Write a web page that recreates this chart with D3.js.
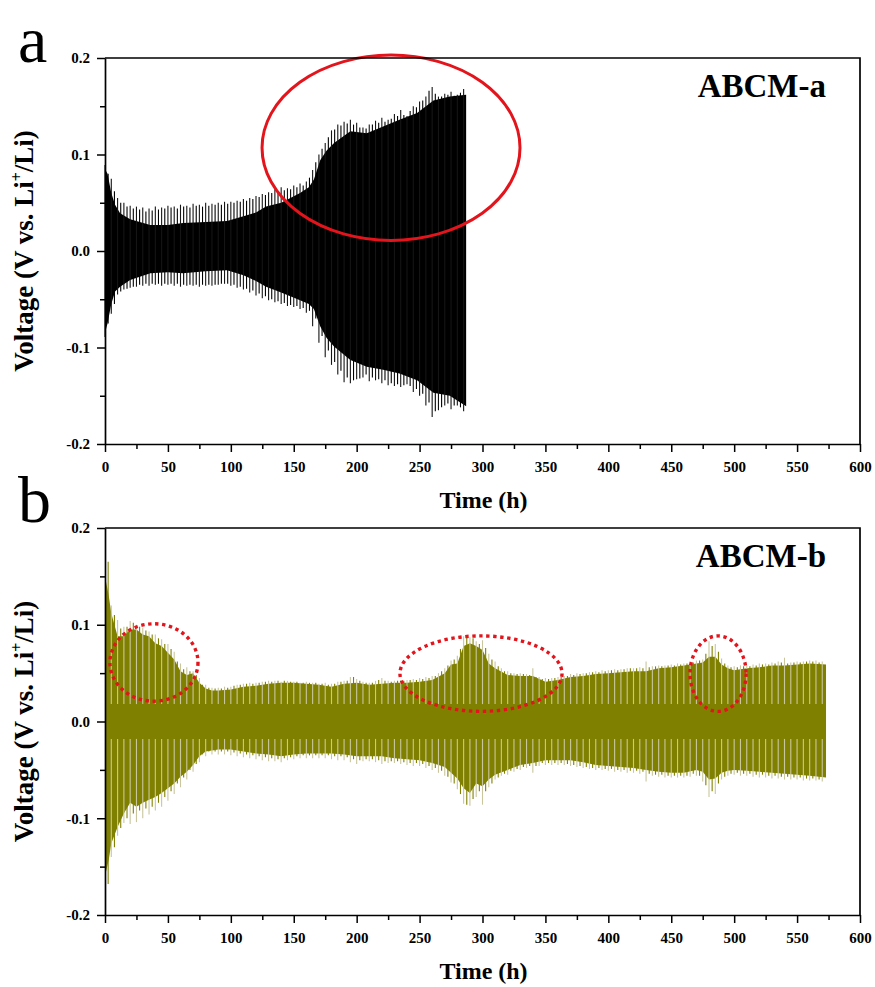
<!DOCTYPE html>
<meta charset="utf-8">
<script src="https://d3js.org/d3.v7.min.js"></script>
<style>
  body { margin: 0; background: #fff; }
  text { font-family: "Liberation Serif", "Times New Roman", serif; }
</style>
<body>
  <div id="chart"></div>
</body>
<script>
    // ---- data ----
    // panel a: dense band (upper / lower edge of the solid black)
    const aBandT = [0, 2, 5, 8, 12, 20, 36, 50, 62, 80, 97, 110, 120, 128, 140, 155, 162, 166, 171, 176, 182, 195, 208, 221, 234, 248, 261, 274, 287];
    const aBandTop = [.085, .080, .060, .048, .039, .033, .027, .027, .029, .030, .031, .036, .040, .046, .050, .060, .066, .074, .094, .104, .112, .124, .122, .129, .136, .143, .156, .160, .162];
    const aBandBot = [-.085, -.075, -.055, -.042, -.037, -.030, -.023, -.022, -.023, -.021, -.020, -.025, -.031, -.037, -.043, -.051, -.055, -.060, -.078, -.090, -.099, -.113, -.120, -.123, -.127, -.134, -.147, -.150, -.161];
    // panel a: spike tips, every 5 h from 0 h ...
    const aSpikeUp = [.089, .075, .055, .050, .047, .046, .045, .044, .046, .045,
        .047, .046, .048, .047, .049, .048, .050, .049, .050, .051,
        .051, .052, .054, .055, .057, .059, .061, .064, .066, .065,
        .068, .070, .072, .084, .100, .112, .125, .131, .134, .136,
        .133, .128, .131, .135, .138, .136, .142, .146, .140, .150,
        .155, .160, .170, .160, .163, .165, .162, .168];
    const aSpikeDn = [-.089, -.065, -.045, -.040, -.038, -.037, -.036, -.036, -.035, -.036,
        -.035, -.036, -.037, -.036, -.036, -.037, -.036, -.036, -.035, -.034,
        -.036, -.038, -.040, -.043, -.046, -.049, -.051, -.053, -.055, -.057,
        -.058, -.060, -.064, -.078, -.095, -.110, -.118, -.128, -.136, -.137,
        -.133, -.131, -.135, -.134, -.137, -.139, -.140, -.141, -.138, -.146,
        -.150, -.160, -.172, -.165, -.160, -.164, -.160, -.166];
    // ... and the cycles in between, every 5 h from 2.5 h
    const aSpikeUp2 = [.080, .062, .050, .046, .044, .043, .041, .042, .043, .044,
        .045, .044, .046, .045, .047, .046, .047, .048, .048, .049,
        .050, .051, .052, .054, .056, .058, .060, .062, .063, .064,
        .066, .068, .076, .092, .106, .118, .126, .130, .132, .131,
        .128, .127, .131, .133, .134, .137, .140, .141, .145, .149,
        .156, .166, .163, .160, .162, .161, .164];
    const aSpikeDn2 = [-.075, -.055, -.042, -.039, -.037, -.035, -.034, -.034, -.034, -.034,
        -.034, -.034, -.035, -.035, -.035, -.035, -.035, -.035, -.034, -.034,
        -.035, -.037, -.039, -.041, -.044, -.047, -.050, -.052, -.054, -.056,
        -.057, -.059, -.062, -.070, -.088, -.103, -.115, -.124, -.131, -.134,
        -.132, -.128, -.131, -.133, -.134, -.137, -.138, -.139, -.140, -.143,
        -.148, -.157, -.166, -.162, -.158, -.160, -.162];

    // panel b: dense band
    const bBandT = [0, 3, 5, 10, 15, 20, 25, 30, 35, 40, 45, 50, 55, 60, 65, 70, 75, 80, 85, 90,
        100, 110, 120, 130, 140, 150, 160, 170, 180, 190, 200, 210, 220, 230, 240, 250, 260, 270, 275, 280,
        285, 290, 295, 300, 305, 310, 320, 330, 340, 350, 360, 370, 380, 390, 400, 410, 420, 430, 440, 450,
        460, 470, 475, 480, 485, 490, 495, 500, 510, 520, 530, 540, 550, 560, 573];
    const bBandTop = [.150, .130, .112, .088, .088, .095, .095, .090, .088, .081, .078, .071, .064, .052, .048, .050, .040, .034, .032, .032,
        .033, .036, .037, .039, .040, .040, .039, .038, .036, .039, .040, .038, .039, .040, .040, .041, .043, .050, .059, .060,
        .078, .081, .078, .074, .060, .055, .048, .047, .047, .041, .043, .046, .047, .049, .050, .051, .052, .052, .055, .056,
        .058, .060, .061, .067, .067, .059, .055, .053, .055, .056, .058, .058, .059, .060, .059];
    const bBandBot = [-.160, -.143, -.126, -.109, -.095, -.084, -.088, -.084, -.081, -.078, -.074, -.069, -.064, -.057, -.052, -.045, -.036, -.031, -.030, -.029,
        -.029, -.031, -.033, -.034, -.036, -.034, -.033, -.033, -.033, -.034, -.036, -.036, -.036, -.038, -.039, -.040, -.043, -.047, -.053, -.059,
        -.069, -.074, -.064, -.067, -.060, -.055, -.050, -.045, -.043, -.040, -.040, -.040, -.042, -.045, -.046, -.047, -.048, -.050, -.052, -.053,
        -.053, -.050, -.052, -.060, -.059, -.053, -.051, -.050, -.051, -.052, -.053, -.054, -.055, -.056, -.058];
    // panel b: pale spikes, every 5 h from 5 h
    const bSpikeUp = [.120, .105, .098, .104, .100, .097, .093, .090, .085, .080,
        .072, .060, .056, .052, .045, .038, .035, .035, .036, .036,
        .038, .039, .040, .040, .041, .042, .042, .041, .042, .041,
        .040, .041, .040, .039, .040, .039, .041, .042, .046, .044,
        .041, .040, .042, .045, .042, .042, .043, .043, .044, .045,
        .046, .047, .050, .055, .063, .068, .088, .087, .083, .084,
        .070, .062, .055, .052, .050, .050, .049, .055, .046, .045,
        .045, .046, .047, .049, .050, .050, .051, .052, .053, .053,
        .054, .054, .055, .055, .056, .062, .057, .058, .058, .059,
        .060, .060, .062, .063, .064, .083, .080, .065, .058, .057,
        .058, .058, .059, .060, .060, .061, .062, .066, .061, .062,
        .062, .063, .063, .062];
    const bSpikeDn = [-.140, -.118, -.105, -.106, -.104, -.100, -.096, -.092, -.088, -.082,
        -.075, -.068, -.060, -.052, -.042, -.036, -.034, -.034, -.034, -.035,
        -.036, -.037, -.038, -.039, -.040, -.041, -.041, -.042, -.040, -.039,
        -.038, -.038, -.038, -.038, -.038, -.039, -.040, -.040, -.042, -.044,
        -.041, -.041, -.042, -.044, -.043, -.043, -.044, -.045, -.046, -.046,
        -.048, -.050, -.053, -.056, -.063, -.070, -.085, -.087, -.078, -.086,
        -.068, -.060, -.056, -.055, -.052, -.050, -.048, -.053, -.046, -.045,
        -.045, -.045, -.045, -.046, -.047, -.048, -.049, -.050, -.050, -.051,
        -.052, -.052, -.053, -.053, -.054, -.062, -.056, -.057, -.058, -.058,
        -.058, -.058, -.057, -.056, -.062, -.078, -.075, -.060, -.056, -.055,
        -.056, -.056, -.057, -.058, -.058, -.059, -.059, -.060, -.060, -.060,
        -.061, -.061, -.061, -.062];
    // panel b: olive cycle tips in between, every 5 h from 2.5 h
    const bSpikeUp2 = [.165, .110, .096, .098, .102, .098, .094, .090, .086, .080,
        .075, .062, .054, .052, .048, .038, .035, .034, .034, .035,
        .037, .038, .039, .039, .040, .041, .041, .042, .042, .041,
        .041, .040, .040, .040, .039, .038, .039, .041, .042, .046,
        .042, .040, .040, .043, .042, .041, .042, .042, .043, .043,
        .044, .045, .047, .052, .058, .064, .075, .088, .086, .080,
        .076, .064, .057, .052, .050, .049, .049, .048, .046, .044,
        .044, .045, .046, .047, .048, .049, .050, .051, .051, .052,
        .053, .053, .054, .055, .055, .055, .056, .057, .057, .058,
        .058, .059, .060, .061, .063, .070, .078, .072, .060, .056,
        .056, .057, .057, .058, .059, .059, .060, .061, .060, .061,
        .061, .062, .062, .061];
    const bSpikeDn2 = [-.168, -.130, -.110, -.100, -.095, -.092, -.090, -.088, -.084, -.078,
        -.072, -.064, -.058, -.050, -.044, -.034, -.031, -.031, -.031, -.031,
        -.032, -.033, -.034, -.035, -.036, -.037, -.038, -.039, -.038, -.037,
        -.036, -.035, -.035, -.035, -.035, -.035, -.036, -.036, -.037, -.039,
        -.040, -.039, -.039, -.040, -.041, -.041, -.041, -.042, -.043, -.043,
        -.044, -.046, -.048, -.051, -.057, -.064, -.075, -.086, -.080, -.072,
        -.072, -.064, -.058, -.054, -.051, -.049, -.047, -.046, -.046, -.043,
        -.043, -.043, -.043, -.044, -.045, -.046, -.047, -.048, -.048, -.049,
        -.049, -.050, -.050, -.051, -.051, -.052, -.054, -.055, -.055, -.056,
        -.056, -.056, -.056, -.054, -.056, -.066, -.072, -.064, -.057, -.054,
        -.053, -.054, -.054, -.055, -.055, -.056, -.056, -.057, -.057, -.058,
        -.058, -.059, -.059, -.060];

    // annotation ellipses: [centre h, centre V, radius h, radius V]
    const aRings = [[227.3, 0.107, 102.5, 0.096]];
    const bRings = [[38.9, 0.061, 35, 0.040], [298.8, 0.0495, 64.4, 0.039], [487.2, 0.0495, 22.3, 0.039]];

    const xMajor = [0, 50, 100, 150, 200, 250, 300, 350, 400, 450, 500, 550, 600];
    const xMinor = [25, 75, 125, 175, 225, 275, 325, 375, 425, 475, 525, 575];
    const yMajor = [-0.2, -0.1, 0.0, 0.1, 0.2];
    const yMinor = [-0.15, -0.05, 0.05, 0.15];

    const W = 875, H = 987;
    const svg = d3.select("#chart").append("svg")
        .attr("width", W)
        .attr("height", H);

    const left = 105, right = 860;

    function drawPanel(p) {
        const x = d3.scaleLinear().domain([0, 600]).range([left, right]);
        const y = d3.scaleLinear().domain([-0.2, 0.2]).range([p.bottom, p.top]);
        const g = svg.append("g");

        // solid band
        const band = p.bandT.map((t, i) => ({ t: t, hi: p.bandTop[i], lo: p.bandBot[i] }));
        g.append("path")
            .datum(band)
            .attr("fill", p.color)
            .attr("d", d3.area().x(d => x(d.t)).y0(d => y(d.lo)).y1(d => y(d.hi)));

        // spikes (each set: start, step, tips up, tips down, base, colour)
        p.spikeSets.forEach(s => {
            const spikes = s.up.map((v, i) => ({ t: s.start + i * s.step, up: v, dn: s.dn[i] }));
            g.selectAll(null).data(spikes).join("line")
                .attr("x1", d => x(d.t)).attr("x2", d => x(d.t))
                .attr("y1", y(s.base)).attr("y2", d => y(d.up))
                .attr("stroke", s.color).attr("stroke-width", 1.1);
            g.selectAll(null).data(spikes).join("line")
                .attr("x1", d => x(d.t)).attr("x2", d => x(d.t))
                .attr("y1", y(-s.base)).attr("y2", d => y(d.dn))
                .attr("stroke", s.color).attr("stroke-width", 1.1);
        });

        // red ellipses
        g.selectAll(null).data(p.rings).join("ellipse")
            .attr("cx", d => x(d[0]))
            .attr("cy", d => y(d[1]))
            .attr("rx", d => x(d[2]) - x(0))
            .attr("ry", d => y(0) - y(d[3]))
            .attr("fill", "none")
            .attr("stroke", "#e3141b")
            .attr("stroke-width", p.dotted ? 3.4 : 3)
            .attr("stroke-dasharray", p.dotted ? "3.4 3.6" : null);

        // axes
        g.append("g").attr("transform", `translate(0,${p.bottom})`)
            .call(d3.axisBottom(x).tickValues(xMajor).tickSize(8).tickSizeOuter(0).tickPadding(9).tickFormat(d => d));
        g.append("g").attr("transform", `translate(0,${p.bottom})`)
            .call(d3.axisBottom(x).tickValues(xMinor).tickSize(5).tickFormat(""))
            .select(".domain").remove();
        g.append("g").attr("transform", `translate(${left},0)`)
            .call(d3.axisLeft(y).tickValues(yMajor).tickSize(8).tickSizeOuter(0).tickPadding(7).tickFormat(d => d.toFixed(1)));
        g.append("g").attr("transform", `translate(${left},0)`)
            .call(d3.axisLeft(y).tickValues(yMinor).tickSize(5).tickFormat(""))
            .select(".domain").remove();

        g.selectAll(".domain").attr("stroke-width", 1.7);
        g.selectAll(".tick line").attr("stroke-width", 1.5);
        g.selectAll(".tick text")
            .style("font-family", '"Liberation Serif", serif')
            .style("font-size", "15px")
            .style("font-weight", "bold")
            .attr("fill", "#000");

        // top and right frame
        g.append("path")
            .attr("d", `M${left},${p.top}H${right}V${p.bottom}`)
            .attr("fill", "none")
            .attr("stroke", "#000")
            .attr("stroke-width", 1.7);

        // axis titles
        g.append("text")
            .attr("x", (left + right) / 2 + 1)
            .attr("y", p.bottom + 64)
            .attr("text-anchor", "middle")
            .style("font-size", "24px")
            .style("font-weight", "bold")
            .text("Time (h)");

        const yt = g.append("text")
            .attr("transform", `translate(33,${(p.top + p.bottom) / 2}) rotate(-90)`)
            .attr("text-anchor", "middle")
            .style("font-size", "27px")
            .style("font-weight", "bold");
        yt.append("tspan").text("Voltage (V vs. Li");
        yt.append("tspan").attr("dy", -11).style("font-size", "16px").text("+");
        yt.append("tspan").attr("dy", 11).text("/Li)");

        // sample name and panel letter
        g.append("text")
            .attr("x", 826)
            .attr("y", p.top + 39)
            .attr("text-anchor", "end")
            .style("font-size", "33px")
            .style("font-weight", "bold")
            .text(p.name);

        g.append("text")
            .attr("x", 18)
            .attr("y", p.letterY)
            .style("font-size", "66px")
            .text(p.letter);
    }

    drawPanel({
        letter: "a", letterY: 62, name: "ABCM-a", top: 58, bottom: 444,
        color: "#000",
        bandT: aBandT, bandTop: aBandTop, bandBot: aBandBot,
        spikeSets: [
            { start: 0, step: 5, up: aSpikeUp, dn: aSpikeDn, base: 0, color: "#151515" },
            { start: 2.5, step: 5, up: aSpikeUp2, dn: aSpikeDn2, base: 0, color: "#000" }
        ],
        rings: aRings, dotted: false
    });

    drawPanel({
        letter: "b", letterY: 522, name: "ABCM-b", top: 528, bottom: 915,
        color: "#808000",
        bandT: bBandT, bandTop: bBandTop, bandBot: bBandBot,
        spikeSets: [
            { start: 2.5, step: 5, up: bSpikeUp2, dn: bSpikeDn2, base: 0, color: "#808000" },
            { start: 5, step: 5, up: bSpikeUp, dn: bSpikeDn, base: 0.018, color: "#c9c69d" }
        ],
        rings: bRings, dotted: true
    });
</script>
